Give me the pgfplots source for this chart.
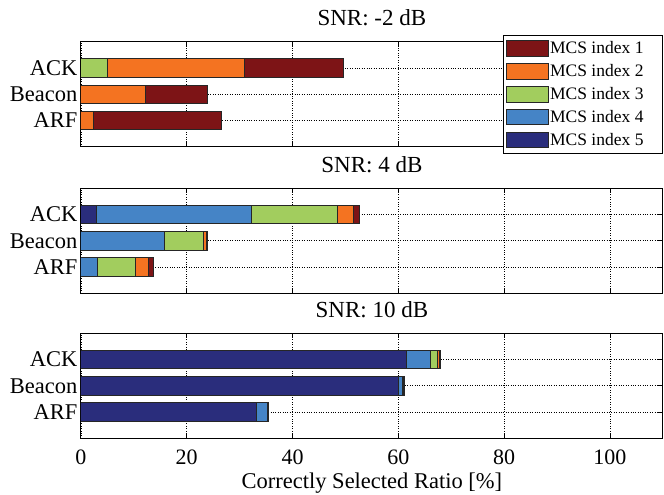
\documentclass[border=0pt]{standalone}
\usepackage{fontspec}
\setmainfont{Liberation Serif}
\usepackage{pgfplots}
\pgfplotsset{compat=1.18}

\definecolor{mcsA}{RGB}{125,20,22}
\definecolor{mcsB}{RGB}{244,115,33}
\definecolor{mcsC}{RGB}{162,205,94}
\definecolor{mcsD}{RGB}{69,132,198}
\definecolor{mcsE}{RGB}{42,45,124}

\pgfplotsset{
 panel/.style={
  xbar stacked, bar width=0.7,
  width=582pt, height=105pt, scale only axis,
  xmin=0, xmax=110, ymin=0, ymax=4,
  ytick={1,2,3}, yticklabels={ARF,Beacon,ACK},
  xtick={0,20,40,60,80,100},
  grid=major, grid style={dotted, black, line width=0.7pt},
  axis line style={line width=1.1pt},
  tick style={black, line width=0.9pt},
  major tick length=5pt, tick align=inside,
  /pgf/number format/assume math mode=true,
  ticklabel style={font=\fontsize{22}{26}\selectfont},
  yticklabel style={font=\fontsize{22.5}{26}\selectfont},
  title style={font=\fontsize{23}{27}\selectfont, at={(0.5,1)}, anchor=base, yshift=10pt},
  every axis plot/.append style={draw=black!85, line width=0.9pt},
  legend image code/.code={\draw[#1, draw=black!85, line width=0.9pt] (0pt,-7.85pt) rectangle (42pt,7.85pt);},
 },
}

\begin{document}
\begin{tikzpicture}
\path[use as bounding box] (-80.9pt,-56.7pt) rectangle (583.1pt,438.3pt);

% SNR -2 dB
\begin{axis}[panel, at={(0pt,291.6pt)}, anchor=south west,
  title={SNR: -2 dB}, xticklabels={},
  reverse legend,
  legend style={at={(1,0.5)}, anchor=east, draw=black, line width=0.8pt,
    font=\fontsize{17.5}{21}\selectfont, cells={anchor=west},
    row sep=6.3pt, inner xsep=3pt, inner ysep=5pt, nodes={inner sep=1pt}},
]
\addplot[fill=mcsE] coordinates {(0,1) (0,2) (0,3)};
\addlegendentry{MCS index 5\hspace*{15pt}}
\addplot[fill=mcsD] coordinates {(0,1) (0,2) (0,3)};
\addlegendentry{MCS index 4\hspace*{15pt}}
\addplot[fill=mcsC] coordinates {(0,1) (0,2) (5.0,3)};
\addlegendentry{MCS index 3\hspace*{15pt}}
\addplot[fill=mcsB] coordinates {(2.4,1) (12.2,2) (26.0,3)};
\addlegendentry{MCS index 2\hspace*{15pt}}
\addplot[fill=mcsA] coordinates {(24.2,1) (11.7,2) (18.6,3)};
\addlegendentry{MCS index 1\hspace*{15pt}}
\end{axis}

% SNR 4 dB
\begin{axis}[panel, at={(0pt,145pt)}, anchor=south west,
  title={SNR: 4 dB}, xticklabels={}]
\addplot[fill=mcsE] coordinates {(0,1) (0,2) (3.0,3)};
\addplot[fill=mcsD] coordinates {(3.2,1) (15.7,2) (29.3,3)};
\addplot[fill=mcsC] coordinates {(7.2,1) (7.5,2) (16.2,3)};
\addplot[fill=mcsB] coordinates {(2.4,1) (0.6,2) (3.0,3)};
\addplot[fill=mcsA] coordinates {(1.0,1) (0.2,2) (1.2,3)};
\end{axis}

% SNR 10 dB
\begin{axis}[panel, at={(0pt,0pt)}, anchor=south west,
  title={SNR: 10 dB},
  xticklabel style={anchor=base, yshift=-26pt},
  xlabel={Correctly Selected Ratio [\%]},
  xlabel style={font=\fontsize{22.5}{26}\selectfont, at={(axis description cs:0.5,0)}, anchor=base, yshift=-50pt},
]
\addplot[fill=mcsE] coordinates {(33.1,1) (60.0,2) (61.5,3)};
\addplot[fill=mcsD] coordinates {(2.1,1) (0.7,2) (4.5,3)};
\addplot[fill=mcsC] coordinates {(0.2,1) (0.2,2) (1.4,3)};
\addplot[fill=mcsB] coordinates {(0.1,1) (0.1,2) (0.4,3)};
\addplot[fill=mcsA] coordinates {(0,1) (0.1,2) (0.2,3)};
\end{axis}
\end{tikzpicture}
\end{document}
